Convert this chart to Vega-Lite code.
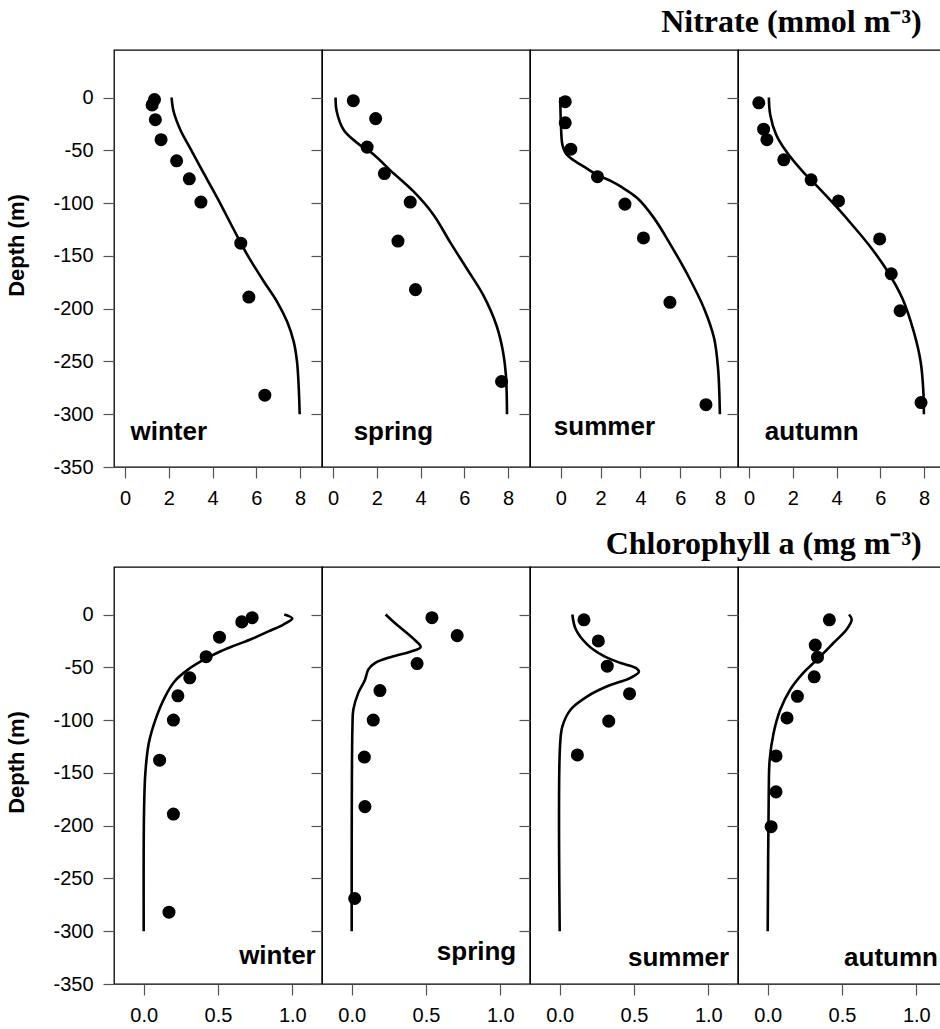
{
  "$schema": "https://vega.github.io/schema/vega-lite/v6.json",
  "padding": {"left": 4, "top": 6, "right": 0, "bottom": 0},
  "spacing": 19,
  "background": "white",
  "datasets": {
    "nitrate_obs": [
      {"season": "winter", "value": 1.35, "depth": -2}, {"season": "winter", "value": 1.24, "depth": -7}, {"season": "winter", "value": 1.39, "depth": -21}, {"season": "winter", "value": 1.65, "depth": -40}, {"season": "winter", "value": 2.36, "depth": -60}, {"season": "winter", "value": 2.94, "depth": -77}, {"season": "winter", "value": 3.47, "depth": -99}, {"season": "winter", "value": 5.29, "depth": -138}, {"season": "winter", "value": 5.66, "depth": -189}, {"season": "winter", "value": 6.39, "depth": -282},
      {"season": "spring", "value": 0.93, "depth": -3}, {"season": "spring", "value": 1.95, "depth": -20}, {"season": "spring", "value": 1.56, "depth": -47}, {"season": "spring", "value": 2.35, "depth": -72}, {"season": "spring", "value": 3.53, "depth": -99}, {"season": "spring", "value": 2.97, "depth": -136}, {"season": "spring", "value": 3.77, "depth": -182}, {"season": "spring", "value": 7.7, "depth": -269},
      {"season": "summer", "value": 0.22, "depth": -4}, {"season": "summer", "value": 0.22, "depth": -24}, {"season": "summer", "value": 0.5, "depth": -49}, {"season": "summer", "value": 1.84, "depth": -75}, {"season": "summer", "value": 3.22, "depth": -101}, {"season": "summer", "value": 4.15, "depth": -133}, {"season": "summer", "value": 5.48, "depth": -194}, {"season": "summer", "value": 7.29, "depth": -291},
      {"season": "autumn", "value": 0.45, "depth": -5}, {"season": "autumn", "value": 0.67, "depth": -30}, {"season": "autumn", "value": 0.82, "depth": -40}, {"season": "autumn", "value": 1.59, "depth": -59}, {"season": "autumn", "value": 2.84, "depth": -78}, {"season": "autumn", "value": 4.09, "depth": -98}, {"season": "autumn", "value": 5.97, "depth": -134}, {"season": "autumn", "value": 6.5, "depth": -167}, {"season": "autumn", "value": 6.9, "depth": -202}, {"season": "autumn", "value": 7.86, "depth": -289}
    ],
    "nitrate_model": [
      {"season": "winter", "value": 2.13, "depth": 0}, {"season": "winter", "value": 2.22, "depth": -13}, {"season": "winter", "value": 2.56, "depth": -32}, {"season": "winter", "value": 2.94, "depth": -46.5}, {"season": "winter", "value": 3.47, "depth": -67}, {"season": "winter", "value": 4.23, "depth": -95.5}, {"season": "winter", "value": 4.98, "depth": -125.5}, {"season": "winter", "value": 5.59, "depth": -149}, {"season": "winter", "value": 6.35, "depth": -174.5}, {"season": "winter", "value": 6.95, "depth": -193.5}, {"season": "winter", "value": 7.41, "depth": -212.5}, {"season": "winter", "value": 7.71, "depth": -231.5}, {"season": "winter", "value": 7.86, "depth": -250.5}, {"season": "winter", "value": 7.94, "depth": -276}, {"season": "winter", "value": 7.98, "depth": -300},
      {"season": "spring", "value": 0.12, "depth": 0}, {"season": "spring", "value": 0.17, "depth": -13}, {"season": "spring", "value": 0.5, "depth": -31}, {"season": "spring", "value": 1.11, "depth": -43}, {"season": "spring", "value": 1.86, "depth": -54}, {"season": "spring", "value": 2.62, "depth": -69}, {"season": "spring", "value": 3.68, "depth": -89}, {"season": "spring", "value": 4.59, "depth": -111}, {"season": "spring", "value": 5.35, "depth": -137}, {"season": "spring", "value": 6.11, "depth": -162}, {"season": "spring", "value": 6.86, "depth": -187}, {"season": "spring", "value": 7.47, "depth": -216}, {"season": "spring", "value": 7.77, "depth": -241}, {"season": "spring", "value": 7.9, "depth": -263}, {"season": "spring", "value": 7.95, "depth": -300},
      {"season": "summer", "value": -0.03, "depth": 0}, {"season": "summer", "value": 0.0, "depth": -23}, {"season": "summer", "value": 0.08, "depth": -45}, {"season": "summer", "value": 0.25, "depth": -53}, {"season": "summer", "value": 0.5, "depth": -57.5}, {"season": "summer", "value": 1.2, "depth": -66}, {"season": "summer", "value": 1.84, "depth": -73.5}, {"season": "summer", "value": 2.5, "depth": -79}, {"season": "summer", "value": 3.02, "depth": -84.5}, {"season": "summer", "value": 3.85, "depth": -95.5}, {"season": "summer", "value": 4.69, "depth": -114.5}, {"season": "summer", "value": 5.53, "depth": -140}, {"season": "summer", "value": 6.37, "depth": -168}, {"season": "summer", "value": 7.2, "depth": -200}, {"season": "summer", "value": 7.7, "depth": -228}, {"season": "summer", "value": 7.9, "depth": -257}, {"season": "summer", "value": 7.99, "depth": -300},
      {"season": "autumn", "value": 0.91, "depth": 0}, {"season": "autumn", "value": 0.97, "depth": -16}, {"season": "autumn", "value": 1.24, "depth": -35}, {"season": "autumn", "value": 1.7, "depth": -51}, {"season": "autumn", "value": 2.45, "depth": -70}, {"season": "autumn", "value": 3.21, "depth": -86}, {"season": "autumn", "value": 3.97, "depth": -103}, {"season": "autumn", "value": 4.73, "depth": -121}, {"season": "autumn", "value": 5.49, "depth": -140}, {"season": "autumn", "value": 6.25, "depth": -162}, {"season": "autumn", "value": 7.0, "depth": -190}, {"season": "autumn", "value": 7.53, "depth": -222}, {"season": "autumn", "value": 7.84, "depth": -250}, {"season": "autumn", "value": 7.96, "depth": -276}, {"season": "autumn", "value": 7.99, "depth": -300}
    ],
    "chl_obs": [
      {"season": "winter", "value": 0.73, "depth": -3}, {"season": "winter", "value": 0.66, "depth": -7}, {"season": "winter", "value": 0.51, "depth": -21.5}, {"season": "winter", "value": 0.42, "depth": -40}, {"season": "winter", "value": 0.31, "depth": -60}, {"season": "winter", "value": 0.23, "depth": -77}, {"season": "winter", "value": 0.2, "depth": -100}, {"season": "winter", "value": 0.107, "depth": -138}, {"season": "winter", "value": 0.2, "depth": -189}, {"season": "winter", "value": 0.17, "depth": -282},
      {"season": "spring", "value": 0.54, "depth": -3}, {"season": "spring", "value": 0.71, "depth": -20}, {"season": "spring", "value": 0.44, "depth": -46.5}, {"season": "spring", "value": 0.19, "depth": -72}, {"season": "spring", "value": 0.145, "depth": -100}, {"season": "spring", "value": 0.085, "depth": -135}, {"season": "spring", "value": 0.089, "depth": -182}, {"season": "spring", "value": 0.02, "depth": -269},
      {"season": "summer", "value": 0.163, "depth": -5}, {"season": "summer", "value": 0.26, "depth": -25}, {"season": "summer", "value": 0.32, "depth": -49}, {"season": "summer", "value": 0.47, "depth": -75}, {"season": "summer", "value": 0.33, "depth": -101}, {"season": "summer", "value": 0.119, "depth": -133},
      {"season": "autumn", "value": 0.415, "depth": -5}, {"season": "autumn", "value": 0.32, "depth": -29}, {"season": "autumn", "value": 0.335, "depth": -40.5}, {"season": "autumn", "value": 0.313, "depth": -59}, {"season": "autumn", "value": 0.2, "depth": -77.5}, {"season": "autumn", "value": 0.13, "depth": -98}, {"season": "autumn", "value": 0.056, "depth": -134}, {"season": "autumn", "value": 0.056, "depth": -168}, {"season": "autumn", "value": 0.023, "depth": -201}
    ],
    "chl_model": [
      {"season": "winter", "value": 0.946, "depth": 0}, {"season": "winter", "value": 1.0, "depth": -3.8}, {"season": "winter", "value": 0.94, "depth": -9.5}, {"season": "winter", "value": 0.84, "depth": -16}, {"season": "winter", "value": 0.73, "depth": -23}, {"season": "winter", "value": 0.61, "depth": -29.5}, {"season": "winter", "value": 0.5, "depth": -36}, {"season": "winter", "value": 0.39, "depth": -44}, {"season": "winter", "value": 0.3, "depth": -52}, {"season": "winter", "value": 0.21, "depth": -63}, {"season": "winter", "value": 0.145, "depth": -77.5}, {"season": "winter", "value": 0.078, "depth": -100}, {"season": "winter", "value": 0.034, "depth": -122}, {"season": "winter", "value": 0.011, "depth": -150}, {"season": "winter", "value": 0.002, "depth": -188}, {"season": "winter", "value": 0.0, "depth": -300},
      {"season": "spring", "value": 0.228, "depth": 0}, {"season": "spring", "value": 0.29, "depth": -8}, {"season": "spring", "value": 0.424, "depth": -24}, {"season": "spring", "value": 0.464, "depth": -30.7}, {"season": "spring", "value": 0.4, "depth": -35}, {"season": "spring", "value": 0.27, "depth": -40}, {"season": "spring", "value": 0.156, "depth": -46}, {"season": "spring", "value": 0.112, "depth": -52}, {"season": "spring", "value": 0.089, "depth": -62}, {"season": "spring", "value": 0.045, "depth": -74}, {"season": "spring", "value": 0.011, "depth": -90}, {"season": "spring", "value": 0.005, "depth": -106}, {"season": "spring", "value": 0.0, "depth": -300},
      {"season": "summer", "value": 0.085, "depth": 0}, {"season": "summer", "value": 0.108, "depth": -14}, {"season": "summer", "value": 0.186, "depth": -28.5}, {"season": "summer", "value": 0.298, "depth": -39.5}, {"season": "summer", "value": 0.41, "depth": -46}, {"season": "summer", "value": 0.511, "depth": -50.6}, {"season": "summer", "value": 0.533, "depth": -54.4}, {"season": "summer", "value": 0.477, "depth": -60}, {"season": "summer", "value": 0.32, "depth": -68}, {"season": "summer", "value": 0.186, "depth": -77.5}, {"season": "summer", "value": 0.074, "depth": -90}, {"season": "summer", "value": 0.018, "depth": -106}, {"season": "summer", "value": 0.002, "depth": -125}, {"season": "summer", "value": 0.0, "depth": -300},
      {"season": "autumn", "value": 0.547, "depth": 0}, {"season": "autumn", "value": 0.565, "depth": -4.7}, {"season": "autumn", "value": 0.532, "depth": -14}, {"season": "autumn", "value": 0.442, "depth": -27}, {"season": "autumn", "value": 0.33, "depth": -43}, {"season": "autumn", "value": 0.241, "depth": -55}, {"season": "autumn", "value": 0.152, "depth": -71}, {"season": "autumn", "value": 0.085, "depth": -90}, {"season": "autumn", "value": 0.04, "depth": -112}, {"season": "autumn", "value": 0.013, "depth": -138}, {"season": "autumn", "value": 0.007, "depth": -169}, {"season": "autumn", "value": 0.0, "depth": -300}
    ]
  },
  "vconcat": [
    {
      "title": {"text": "Nitrate (mmol m⁻³)", "anchor": "end", "font": "Liberation Serif", "fontSize": 32, "fontWeight": "bold", "color": "black", "offset": 10, "dx": -25},
      "spacing": 0,
      "bounds": "flush",
      "hconcat": [
        {
          "width": 208, "height": 417,
          "layer": [
            {"data": {"name": "nitrate_model"}, "transform": [{"filter": "datum.season === 'winter'"}],
             "mark": {"type": "line", "color": "black", "strokeWidth": 2.6, "interpolate": "catmull-rom"},
             "encoding": {
               "x": {"field": "value", "type": "quantitative", "scale": {"domain": [-0.5, 9], "nice": false, "zero": false}, "axis": {"values": [0, 2, 4, 6, 8], "title": null}},
               "y": {"field": "depth", "type": "quantitative", "scale": {"domain": [-350, 45], "nice": false, "zero": false}, "axis": {"values": [-350, -300, -250, -200, -150, -100, -50, 0], "title": "Depth (m)", "titleX": -86, "titleY": 195}},
               "order": {"field": "depth", "sort": "descending"}}},
            {"data": {"name": "nitrate_obs"}, "transform": [{"filter": "datum.season === 'winter'"}],
             "mark": {"type": "circle", "color": "black", "size": 170, "opacity": 1},
             "encoding": {
               "x": {"field": "value", "type": "quantitative", "scale": {"domain": [-0.5, 9], "nice": false, "zero": false}},
               "y": {"field": "depth", "type": "quantitative", "scale": {"domain": [-350, 45], "nice": false, "zero": false}}}},
            {"data": {"values": [{"season": "winter"}]},
             "mark": {"type": "text", "font": "Liberation Sans", "fontSize": 26, "fontWeight": "bold", "color": "black", "align": "center", "baseline": "alphabetic"},
             "encoding": {
               "x": {"datum": 2.0, "type": "quantitative", "scale": {"domain": [-0.5, 9], "nice": false, "zero": false}},
               "y": {"datum": -324, "type": "quantitative", "scale": {"domain": [-350, 45], "nice": false, "zero": false}},
               "text": {"field": "season"}}}
          ]
        },
        {
          "width": 208, "height": 417,
          "layer": [
            {"data": {"name": "nitrate_model"}, "transform": [{"filter": "datum.season === 'spring'"}],
             "mark": {"type": "line", "color": "black", "strokeWidth": 2.6, "interpolate": "catmull-rom"},
             "encoding": {
               "x": {"field": "value", "type": "quantitative", "scale": {"domain": [-0.5, 9], "nice": false, "zero": false}, "axis": {"values": [0, 2, 4, 6, 8], "title": null}},
               "y": {"field": "depth", "type": "quantitative", "scale": {"domain": [-350, 45], "nice": false, "zero": false}, "axis": {"values": [-350, -300, -250, -200, -150, -100, -50, 0], "title": null, "labels": false}},
               "order": {"field": "depth", "sort": "descending"}}},
            {"data": {"name": "nitrate_obs"}, "transform": [{"filter": "datum.season === 'spring'"}],
             "mark": {"type": "circle", "color": "black", "size": 170, "opacity": 1},
             "encoding": {
               "x": {"field": "value", "type": "quantitative", "scale": {"domain": [-0.5, 9], "nice": false, "zero": false}},
               "y": {"field": "depth", "type": "quantitative", "scale": {"domain": [-350, 45], "nice": false, "zero": false}}}},
            {"data": {"values": [{"season": "spring"}]},
             "mark": {"type": "text", "font": "Liberation Sans", "fontSize": 26, "fontWeight": "bold", "color": "black", "align": "center", "baseline": "alphabetic"},
             "encoding": {
               "x": {"datum": 2.76, "type": "quantitative", "scale": {"domain": [-0.5, 9], "nice": false, "zero": false}},
               "y": {"datum": -324, "type": "quantitative", "scale": {"domain": [-350, 45], "nice": false, "zero": false}},
               "text": {"field": "season"}}}
          ]
        },
        {
          "width": 208, "height": 417,
          "layer": [
            {"data": {"name": "nitrate_model"}, "transform": [{"filter": "datum.season === 'summer'"}],
             "mark": {"type": "line", "color": "black", "strokeWidth": 2.6, "interpolate": "catmull-rom"},
             "encoding": {
               "x": {"field": "value", "type": "quantitative", "scale": {"domain": [-1.55, 8.9], "nice": false, "zero": false}, "axis": {"values": [0, 2, 4, 6, 8], "title": null}},
               "y": {"field": "depth", "type": "quantitative", "scale": {"domain": [-350, 45], "nice": false, "zero": false}, "axis": {"values": [-350, -300, -250, -200, -150, -100, -50, 0], "title": null, "labels": false}},
               "order": {"field": "depth", "sort": "descending"}}},
            {"data": {"name": "nitrate_obs"}, "transform": [{"filter": "datum.season === 'summer'"}],
             "mark": {"type": "circle", "color": "black", "size": 170, "opacity": 1},
             "encoding": {
               "x": {"field": "value", "type": "quantitative", "scale": {"domain": [-1.55, 8.9], "nice": false, "zero": false}},
               "y": {"field": "depth", "type": "quantitative", "scale": {"domain": [-350, 45], "nice": false, "zero": false}}}},
            {"data": {"values": [{"season": "summer"}]},
             "mark": {"type": "text", "font": "Liberation Sans", "fontSize": 26, "fontWeight": "bold", "color": "black", "align": "center", "baseline": "alphabetic"},
             "encoding": {
               "x": {"datum": 2.19, "type": "quantitative", "scale": {"domain": [-1.55, 8.9], "nice": false, "zero": false}},
               "y": {"datum": -320, "type": "quantitative", "scale": {"domain": [-350, 45], "nice": false, "zero": false}},
               "text": {"field": "season"}}}
          ]
        },
        {
          "width": 208, "height": 417,
          "layer": [
            {"data": {"name": "nitrate_model"}, "transform": [{"filter": "datum.season === 'autumn'"}],
             "mark": {"type": "line", "color": "black", "strokeWidth": 2.6, "interpolate": "catmull-rom"},
             "encoding": {
               "x": {"field": "value", "type": "quantitative", "scale": {"domain": [-0.5, 9], "nice": false, "zero": false}, "axis": {"values": [0, 2, 4, 6, 8], "title": null}},
               "y": {"field": "depth", "type": "quantitative", "scale": {"domain": [-350, 45], "nice": false, "zero": false}, "axis": {"values": [-350, -300, -250, -200, -150, -100, -50, 0], "title": null, "labels": false}},
               "order": {"field": "depth", "sort": "descending"}}},
            {"data": {"name": "nitrate_obs"}, "transform": [{"filter": "datum.season === 'autumn'"}],
             "mark": {"type": "circle", "color": "black", "size": 170, "opacity": 1},
             "encoding": {
               "x": {"field": "value", "type": "quantitative", "scale": {"domain": [-0.5, 9], "nice": false, "zero": false}},
               "y": {"field": "depth", "type": "quantitative", "scale": {"domain": [-350, 45], "nice": false, "zero": false}}}},
            {"data": {"values": [{"season": "autumn"}]},
             "mark": {"type": "text", "font": "Liberation Sans", "fontSize": 26, "fontWeight": "bold", "color": "black", "align": "center", "baseline": "alphabetic"},
             "encoding": {
               "x": {"datum": 2.87, "type": "quantitative", "scale": {"domain": [-0.5, 9], "nice": false, "zero": false}},
               "y": {"datum": -324, "type": "quantitative", "scale": {"domain": [-350, 45], "nice": false, "zero": false}},
               "text": {"field": "season"}}}
          ]
        }
      ]
    },
    {
      "title": {"text": "Chlorophyll a (mg m⁻³)", "anchor": "end", "font": "Liberation Serif", "fontSize": 32, "fontWeight": "bold", "color": "black", "offset": 5, "dx": -25},
      "spacing": 0,
      "bounds": "flush",
      "hconcat": [
        {
          "width": 208, "height": 417,
          "layer": [
            {"data": {"name": "chl_model"}, "transform": [{"filter": "datum.season === 'winter'"}],
             "mark": {"type": "line", "color": "black", "strokeWidth": 2.6, "interpolate": "catmull-rom"},
             "encoding": {
               "x": {"field": "value", "type": "quantitative", "scale": {"domain": [-0.2, 1.2], "nice": false, "zero": false}, "axis": {"values": [0, 0.5, 1], "format": ".1f", "title": null}},
               "y": {"field": "depth", "type": "quantitative", "scale": {"domain": [-350, 45], "nice": false, "zero": false}, "axis": {"values": [-350, -300, -250, -200, -150, -100, -50, 0], "title": "Depth (m)", "titleX": -86, "titleY": 195}},
               "order": {"field": "depth", "sort": "descending"}}},
            {"data": {"name": "chl_obs"}, "transform": [{"filter": "datum.season === 'winter'"}],
             "mark": {"type": "circle", "color": "black", "size": 170, "opacity": 1},
             "encoding": {
               "x": {"field": "value", "type": "quantitative", "scale": {"domain": [-0.2, 1.2], "nice": false, "zero": false}},
               "y": {"field": "depth", "type": "quantitative", "scale": {"domain": [-350, 45], "nice": false, "zero": false}}}},
            {"data": {"values": [{"season": "winter"}]},
             "mark": {"type": "text", "font": "Liberation Sans", "fontSize": 26, "fontWeight": "bold", "color": "black", "align": "center", "baseline": "alphabetic"},
             "encoding": {
               "x": {"datum": 0.9, "type": "quantitative", "scale": {"domain": [-0.2, 1.2], "nice": false, "zero": false}},
               "y": {"datum": -331, "type": "quantitative", "scale": {"domain": [-350, 45], "nice": false, "zero": false}},
               "text": {"field": "season"}}}
          ]
        },
        {
          "width": 208, "height": 417,
          "layer": [
            {"data": {"name": "chl_model"}, "transform": [{"filter": "datum.season === 'spring'"}],
             "mark": {"type": "line", "color": "black", "strokeWidth": 2.6, "interpolate": "catmull-rom"},
             "encoding": {
               "x": {"field": "value", "type": "quantitative", "scale": {"domain": [-0.2, 1.2], "nice": false, "zero": false}, "axis": {"values": [0, 0.5, 1], "format": ".1f", "title": null}},
               "y": {"field": "depth", "type": "quantitative", "scale": {"domain": [-350, 45], "nice": false, "zero": false}, "axis": {"values": [-350, -300, -250, -200, -150, -100, -50, 0], "title": null, "labels": false}},
               "order": {"field": "depth", "sort": "descending"}}},
            {"data": {"name": "chl_obs"}, "transform": [{"filter": "datum.season === 'spring'"}],
             "mark": {"type": "circle", "color": "black", "size": 170, "opacity": 1},
             "encoding": {
               "x": {"field": "value", "type": "quantitative", "scale": {"domain": [-0.2, 1.2], "nice": false, "zero": false}},
               "y": {"field": "depth", "type": "quantitative", "scale": {"domain": [-350, 45], "nice": false, "zero": false}}}},
            {"data": {"values": [{"season": "spring"}]},
             "mark": {"type": "text", "font": "Liberation Sans", "fontSize": 26, "fontWeight": "bold", "color": "black", "align": "center", "baseline": "alphabetic"},
             "encoding": {
               "x": {"datum": 0.84, "type": "quantitative", "scale": {"domain": [-0.2, 1.2], "nice": false, "zero": false}},
               "y": {"datum": -327, "type": "quantitative", "scale": {"domain": [-350, 45], "nice": false, "zero": false}},
               "text": {"field": "season"}}}
          ]
        },
        {
          "width": 208, "height": 417,
          "layer": [
            {"data": {"name": "chl_model"}, "transform": [{"filter": "datum.season === 'summer'"}],
             "mark": {"type": "line", "color": "black", "strokeWidth": 2.6, "interpolate": "catmull-rom"},
             "encoding": {
               "x": {"field": "value", "type": "quantitative", "scale": {"domain": [-0.2, 1.2], "nice": false, "zero": false}, "axis": {"values": [0, 0.5, 1], "format": ".1f", "title": null}},
               "y": {"field": "depth", "type": "quantitative", "scale": {"domain": [-350, 45], "nice": false, "zero": false}, "axis": {"values": [-350, -300, -250, -200, -150, -100, -50, 0], "title": null, "labels": false}},
               "order": {"field": "depth", "sort": "descending"}}},
            {"data": {"name": "chl_obs"}, "transform": [{"filter": "datum.season === 'summer'"}],
             "mark": {"type": "circle", "color": "black", "size": 170, "opacity": 1},
             "encoding": {
               "x": {"field": "value", "type": "quantitative", "scale": {"domain": [-0.2, 1.2], "nice": false, "zero": false}},
               "y": {"field": "depth", "type": "quantitative", "scale": {"domain": [-350, 45], "nice": false, "zero": false}}}},
            {"data": {"values": [{"season": "summer"}]},
             "mark": {"type": "text", "font": "Liberation Sans", "fontSize": 26, "fontWeight": "bold", "color": "black", "align": "center", "baseline": "alphabetic"},
             "encoding": {
               "x": {"datum": 0.8, "type": "quantitative", "scale": {"domain": [-0.2, 1.2], "nice": false, "zero": false}},
               "y": {"datum": -333, "type": "quantitative", "scale": {"domain": [-350, 45], "nice": false, "zero": false}},
               "text": {"field": "season"}}}
          ]
        },
        {
          "width": 208, "height": 417,
          "layer": [
            {"data": {"name": "chl_model"}, "transform": [{"filter": "datum.season === 'autumn'"}],
             "mark": {"type": "line", "color": "black", "strokeWidth": 2.6, "interpolate": "catmull-rom"},
             "encoding": {
               "x": {"field": "value", "type": "quantitative", "scale": {"domain": [-0.2, 1.2], "nice": false, "zero": false}, "axis": {"values": [0, 0.5, 1], "format": ".1f", "title": null}},
               "y": {"field": "depth", "type": "quantitative", "scale": {"domain": [-350, 45], "nice": false, "zero": false}, "axis": {"values": [-350, -300, -250, -200, -150, -100, -50, 0], "title": null, "labels": false}},
               "order": {"field": "depth", "sort": "descending"}}},
            {"data": {"name": "chl_obs"}, "transform": [{"filter": "datum.season === 'autumn'"}],
             "mark": {"type": "circle", "color": "black", "size": 170, "opacity": 1},
             "encoding": {
               "x": {"field": "value", "type": "quantitative", "scale": {"domain": [-0.2, 1.2], "nice": false, "zero": false}},
               "y": {"field": "depth", "type": "quantitative", "scale": {"domain": [-350, 45], "nice": false, "zero": false}}}},
            {"data": {"values": [{"season": "autumn"}]},
             "mark": {"type": "text", "font": "Liberation Sans", "fontSize": 26, "fontWeight": "bold", "color": "black", "align": "center", "baseline": "alphabetic"},
             "encoding": {
               "x": {"datum": 0.83, "type": "quantitative", "scale": {"domain": [-0.2, 1.2], "nice": false, "zero": false}},
               "y": {"datum": -333, "type": "quantitative", "scale": {"domain": [-350, 45], "nice": false, "zero": false}},
               "text": {"field": "season"}}}
          ]
        }
      ]
    }
  ],
  "config": {
    "view": {"stroke": "black", "strokeWidth": 1.3},
    "concat": {"spacing": 0},
    "axis": {"domain": false, "grid": false, "tickColor": "#555555", "tickSize": 11, "tickWidth": 1.2, "labelFont": "Liberation Sans", "labelFontSize": 20, "labelColor": "black", "titleFont": "Liberation Sans", "titleFontSize": 22, "titleFontWeight": "bold", "titleColor": "black"},
    "axisX": {"labelPadding": 10},
    "axisY": {"labelPadding": 10, "labelExpr": "datum.value < 0 ? '-' + abs(datum.value) : '' + datum.value"}
  }
}
